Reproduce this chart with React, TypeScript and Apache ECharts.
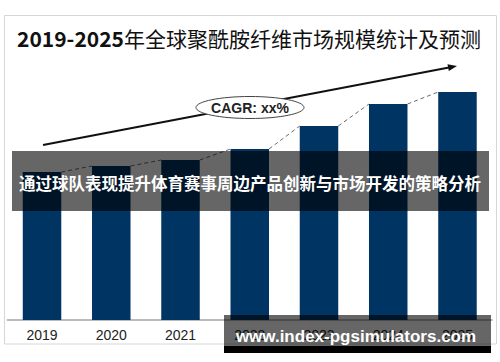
import React, { useEffect, useRef } from "react";
import * as echarts from "echarts";

const categories = ["2019", "2020", "2021", "2022", "2023", "2024", "2025"];
const marketSize = [148, 154, 160, 171, 194, 216, 228];
const titleYears = "2019-2025";
const titleText = "年全球聚酰胺纤维市场规模统计及预测";
const cagrLabel = "CAGR: xx%";
const bannerText = "通过球队表现提升体育赛事周边产品创新与市场开发的策略分析";
const watermarkText = "www.index-pgsimulators.com";

const BAR_W = 38.5;

export default function App() {
  const ref = useRef<HTMLDivElement>(null);
  useEffect(() => {
    if (!ref.current) return;
    const chart = echarts.init(ref.current, undefined, { renderer: "svg" });
    const connectors = marketSize.slice(0, -1).map((v, i) => [i, v, marketSize[i + 1]]);
    chart.setOption({
      animation: false,
      backgroundColor: "#ffffff",
      grid: { left: 7.4, right: 7.9, top: 80, bottom: 42 },
      xAxis: {
        type: "category",
        data: categories,
        axisLine: { show: true, lineStyle: { color: "#a6a6a6", width: 1.5 } },
        axisTick: { show: false },
        axisLabel: {
          color: "#222",
          fontSize: 14,
          margin: 8,
          fontFamily: "Liberation Sans, Arial, sans-serif",
        },
      },
      yAxis: {
        type: "value",
        min: 0,
        max: 240,
        show: false,
        splitLine: { show: false },
      },
      series: [
        {
          type: "bar",
          data: marketSize,
          barWidth: BAR_W,
          itemStyle: { color: "#003462" },
          z: 2,
        },
        {
          type: "custom",
          data: connectors,
          z: 3,
          renderItem: (params: any, api: any) => {
            const i = api.value(0);
            const p1 = api.coord([i, api.value(1)]);
            const p2 = api.coord([i + 1, api.value(2)]);
            return {
              type: "line",
              shape: {
                x1: p1[0] + BAR_W / 2,
                y1: p1[1],
                x2: p2[0] - BAR_W / 2,
                y2: p2[1],
              },
              style: { stroke: "#6b6b6b", lineWidth: 1, lineDash: [4, 3] },
            };
          },
        },
      ],
      graphic: [
        {
          type: "rect",
          shape: { x: 4.5, y: 15.5, width: 492, height: 328.5 },
          style: { fill: "none", stroke: "#d6d6d6", lineWidth: 1 },
          z: 0,
        },
        {
          type: "text",
          x: 249,
          y: 38,
          style: {
            text: `{a|${titleYears}}{b|${titleText}}`,
            align: "center",
            verticalAlign: "middle",
            rich: {
              a: {
                fontSize: 21,
                fontWeight: "bold",
                fill: "#111",
                fontFamily: "Noto Sans CJK SC, sans-serif",
              },
              b: {
                fontSize: 21,
                fontWeight: "normal",
                fill: "#111",
                fontFamily: "Noto Sans CJK SC, sans-serif",
              },
            },
          },
          z: 10,
        },
        {
          type: "line",
          shape: { x1: 43, y1: 145, x2: 449, y2: 67.5 },
          style: { stroke: "#111", lineWidth: 2 },
          z: 10,
        },
        {
          type: "polygon",
          shape: {
            points: [
              [457, 66],
              [448.85, 71.1],
              [447.5, 64.3],
            ],
          },
          style: { fill: "#111" },
          z: 10,
        },
        {
          type: "ellipse",
          shape: { cx: 250, cy: 107.5, rx: 54, ry: 11 },
          style: { fill: "#ffffff", stroke: "#444", lineWidth: 1 },
          z: 11,
        },
        {
          type: "text",
          x: 250,
          y: 107.5,
          style: {
            text: cagrLabel,
            align: "center",
            verticalAlign: "middle",
            fontSize: 14,
            fontWeight: "bold",
            fill: "#222",
            fontFamily: "Liberation Sans, Arial, sans-serif",
          },
          z: 12,
        },
        {
          type: "rect",
          shape: { x: 12, y: 151, width: 477, height: 60 },
          style: { fill: "rgba(0,0,0,0.6)" },
          z: 100,
        },
        {
          type: "text",
          x: 250,
          y: 183,
          style: {
            text: bannerText,
            align: "center",
            verticalAlign: "middle",
            fontSize: 16.5,
            fontWeight: "bold",
            fill: "#ffffff",
            fontFamily: "Noto Sans CJK SC, sans-serif",
          },
          z: 101,
        },
        {
          type: "rect",
          shape: { x: 224, y: 315, width: 267, height: 31 },
          style: { fill: "rgba(0,0,0,0.6)" },
          z: 100,
        },
        {
          type: "rect",
          shape: { x: 224, y: 346, width: 267, height: 7 },
          style: { fill: "#000000" },
          z: 100,
        },
        {
          type: "text",
          x: 356,
          y: 336,
          style: {
            text: watermarkText,
            align: "center",
            verticalAlign: "middle",
            fontSize: 17,
            fontWeight: "bold",
            fill: "#ffffff",
            fontFamily: "Liberation Sans, Arial, sans-serif",
          },
          z: 101,
        },
      ],
    });
    return () => chart.dispose();
  }, []);
  return <div ref={ref} style={{ width: 500, height: 362, position: "absolute", left: 0, top: 0 }} />;
}
